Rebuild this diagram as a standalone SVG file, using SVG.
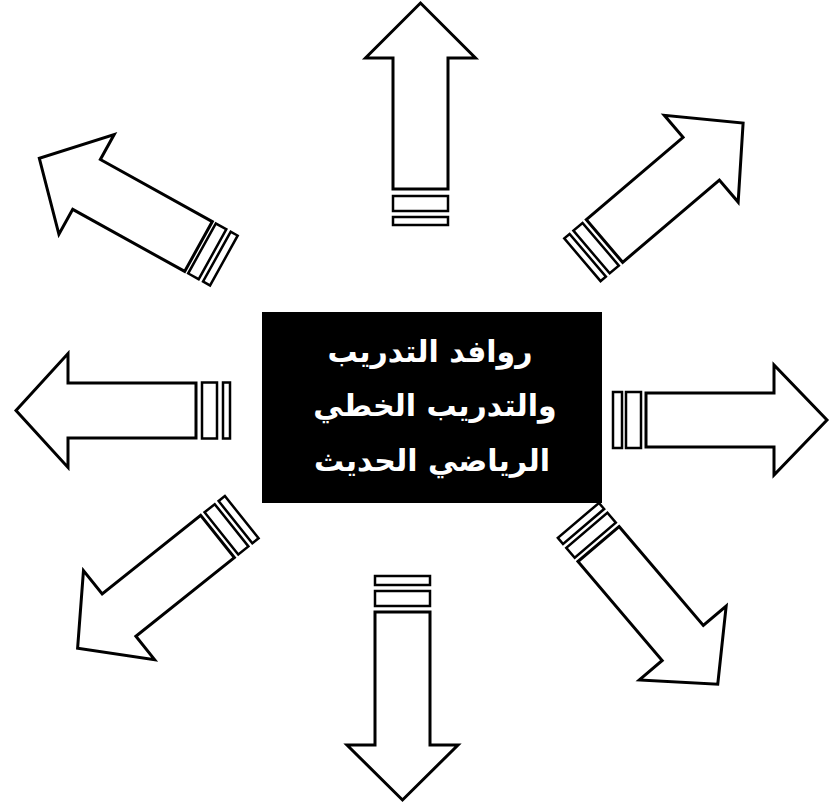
<svg xmlns="http://www.w3.org/2000/svg" width="835" height="806" viewBox="0 0 835 806">
<style>
.ar{fill:#fff;stroke:#000;stroke-width:3;stroke-linejoin:miter}
.bar{fill:#fff;stroke:#000;stroke-width:2.5}
.t{fill:#fff;font-family:"DejaVu Sans","Noto Sans",sans-serif;font-weight:bold;font-size:30px;text-anchor:middle}
</style>
<rect width="835" height="806" fill="#fff"/>
<g id="center">
<rect x="262" y="312" width="340" height="191" fill="#000"/>
<text class="t" x="430" y="362" direction="rtl">روافد التدريب</text>
<text class="t" x="435" y="416" direction="rtl">والتدريب الخطي</text>
<text class="t" x="432" y="471" direction="rtl">الرياضي الحديث</text>
</g>
<g id="connectors">
<g id="arrow-up" transform="translate(420.5,189) rotate(-90)">
<polygon class="ar" points="0,-27.5 131,-27.5 131,-55 186,0 131,55 131,27.5 0,27.5"/>
<rect class="bar" x="-22" y="-27.5" width="15" height="55"/>
<rect class="bar" x="-36" y="-27.5" width="8" height="55"/>
</g>
<g id="arrow-upleft" transform="translate(198.5,246.5) rotate(-151)">
<polygon class="ar" points="0,-28.5 128,-28.5 128,-57 182,0 128,57 128,28.5 0,28.5"/>
<rect class="bar" x="-16" y="-28.5" width="12" height="57"/>
<rect class="bar" x="-29" y="-28.5" width="8" height="57"/>
</g>
<g id="arrow-upright" transform="translate(604.5,241) rotate(-40.4)">
<polygon class="ar" points="0,-28 127,-28 127,-57 182,0 127,57 127,28 0,28"/>
<rect class="bar" x="-17" y="-28" width="12" height="56"/>
<rect class="bar" x="-29" y="-28" width="7" height="56"/>
</g>
<g id="arrow-right" transform="translate(646,420)">
<polygon class="ar" points="0,-27 128,-27 128,-55 181,0 128,55 128,27 0,27"/>
<rect class="bar" x="-20" y="-28" width="15" height="56"/>
<rect class="bar" x="-33" y="-28" width="9" height="56"/>
</g>
<g id="arrow-left" transform="translate(196,410.5) rotate(180)">
<polygon class="ar" points="0,-27.5 128,-27.5 128,-57 180,0 128,57 128,27.5 0,27.5"/>
<rect class="bar" x="-21" y="-28" width="15" height="56"/>
<rect class="bar" x="-34" y="-28" width="7" height="56"/>
</g>
<g id="arrow-downleft" transform="translate(217.5,536.5) rotate(141.4)">
<polygon class="ar" points="0,-27 126,-27 126,-57 179,0 126,57 126,27 0,27"/>
<rect class="bar" x="-18" y="-27" width="13" height="54"/>
<rect class="bar" x="-31" y="-27" width="8" height="54"/>
</g>
<g id="arrow-downright" transform="translate(598.5,544) rotate(49.6)">
<polygon class="ar" points="0,-27 130,-27 130,-57 184,0 130,57 130,27 0,27"/>
<rect class="bar" x="-18" y="-27" width="13" height="54"/>
<rect class="bar" x="-31" y="-27" width="8" height="54"/>
</g>
<g id="arrow-down" transform="translate(402.5,612) rotate(90)">
<polygon class="ar" points="0,-27.5 133,-27.5 133,-55.5 188,0 133,55.5 133,27.5 0,27.5"/>
<rect class="bar" x="-21" y="-27.5" width="15" height="55"/>
<rect class="bar" x="-36" y="-27.5" width="9" height="55"/>
</g>
</g>
</svg>
